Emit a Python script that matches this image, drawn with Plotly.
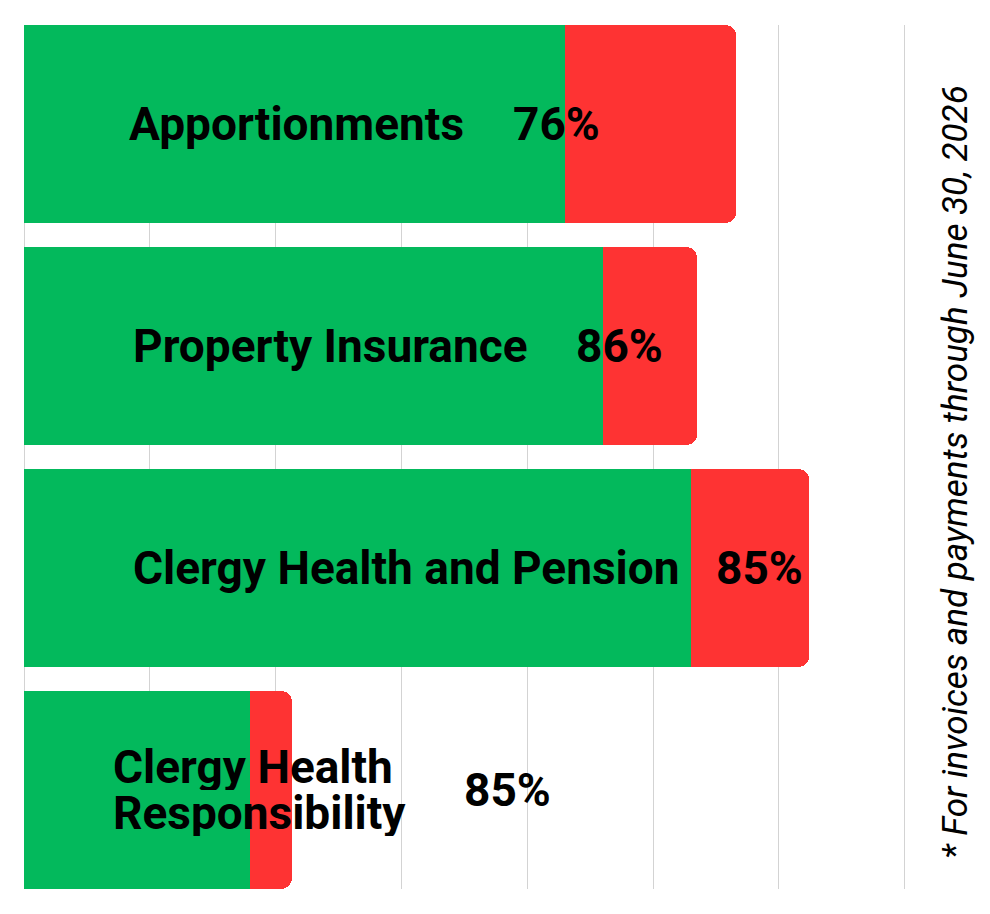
import plotly.graph_objects as go

categories = ["Apportionments", "Property Insurance", "Clergy Health and Pension", "Clergy Health<br>Responsibility"]
paid = [4.30, 4.60, 5.30, 1.80]
unpaid = [1.36, 0.75, 0.94, 0.33]
pct_labels = ["76%", "86%", "85%", "85%"]
footnote = "* For invoices and payments through June 30, 2026"

# label placement (data units along x)
label_x = [0.82, 0.85, 0.85, 0.69]
pct_x = [3.87, 4.37, 5.48, 3.48]

GREEN = "#03B95C"
RED = "#FE3333"
FS = 46
LINE_H = 46

fig = go.Figure()
fig.add_trace(go.Bar(y=list(range(len(categories))), x=paid, orientation="h",
                     marker=dict(color=GREEN, line=dict(width=0)), width=0.892,
                     hoverinfo="skip"))
fig.add_trace(go.Bar(y=list(range(len(categories))), x=unpaid, orientation="h",
                     marker=dict(color=RED, line=dict(width=0)), width=0.892,
                     hoverinfo="skip"))

font = dict(family="Roboto", size=FS, color="black", weight="bold")
for i, cat in enumerate(categories):
    lines = cat.split("<br>")
    n = len(lines)
    for k, line in enumerate(lines):
        extra = dict(height=LINE_H) if n > 1 else {}
        fig.add_annotation(x=label_x[i], y=i, xref="x", yref="y", text="<b>%s</b>" % line,
                           showarrow=False, xanchor="left", yanchor="middle", align="left",
                           yshift=-(k - (n - 1) / 2) * LINE_H, font=font, **extra)
    fig.add_annotation(x=pct_x[i], y=i, xref="x", yref="y", text="<b>%s</b>" % pct_labels[i],
                       showarrow=False, xanchor="left", yanchor="middle", font=font)

fig.add_annotation(x=(955 - 24) / 882, y=1 - (472 - 25) / 864, xref="paper", yref="paper",
                   text=footnote, textangle=-90, showarrow=False,
                   font=dict(family="Roboto", size=35, color="black", style="italic"),
                   xanchor="center", yanchor="middle")

fig.update_layout(
    width=990, height=914,
    margin=dict(l=24, r=84, t=25, b=25),
    barmode="stack", barcornerradius=11,
    showlegend=False,
    plot_bgcolor="white", paper_bgcolor="white",
    xaxis=dict(range=[0, 7.01], dtick=1, tick0=0, showgrid=True, gridcolor="#D3D3D3", gridwidth=1,
               showticklabels=False, zeroline=True, zerolinecolor="#D3D3D3", zerolinewidth=1,
               showline=False, ticks=""),
    yaxis=dict(range=[3.446, -0.446], showticklabels=False, showgrid=False, zeroline=False,
               showline=False, ticks=""),
)

fig.write_html("out.html")
